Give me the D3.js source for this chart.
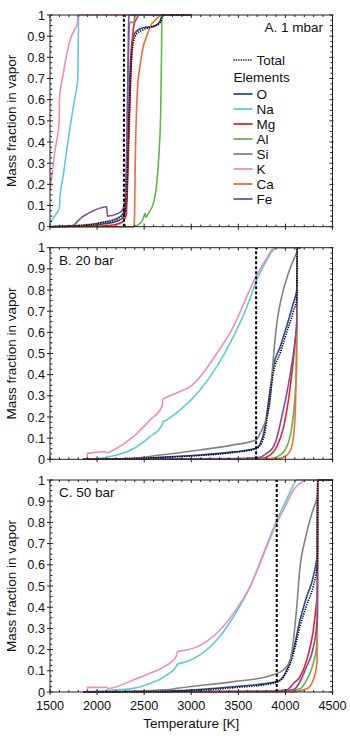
<!DOCTYPE html>
<html><head><meta charset="utf-8">
<script src="https://cdn.jsdelivr.net/npm/d3@7"></script>
<style>body{margin:0;background:#fff}svg{display:block;font-family:"Liberation Sans",Arial,Helvetica,sans-serif}</style>
</head><body><svg id="c" width="350" height="741"></svg>
<script>
// ---------- data ----------
const elements = ["O","Na","Mg","Al","Si","K","Ca","Fe"];
const elementColors = ["#2b4a9c","#5ccbdf","#ec2227","#5db947","#838383","#f28bbf","#f36a36","#7950a2"];
const xTicks = [1500,2000,2500,3000,3500,4000,4500];
const yTicks = [0,0.1,0.2,0.3,0.4,0.5,0.6,0.7,0.8,0.9,1];
const yTickLabels = ["0","0.1","0.2","0.3","0.4","0.5","0.6","0.7","0.8","0.9","1"];
const panelLabels = ["A. 1 mbar","B. 20 bar","C. 50 bar"];
const markerT = [2285, 3689, 3908];

// Panel A (1 mbar)
const O_A  = [[1500,0],[1900,0.005],[2100,0.015],[2200,0.025],[2270,0.04],[2300,0.07],[2320,0.2],[2340,0.6],[2360,0.82],[2385,0.9],[2420,0.924],[2491,0.94],[2598,0.945],[2668,0.97],[2693,1],[3000,1]];
const Na_A = [[1500,0.02],[1550,0.05],[1600,0.09],[1606,0.14],[1640,0.24],[1680,0.37],[1720,0.49],[1760,0.6],[1795,0.7],[1805,1],[3000,1]];
const Mg_A = [[1500,0],[2000,0.002],[2170,0.008],[2260,0.02],[2290,0.035],[2310,0.06],[2330,0.3],[2350,0.6],[2370,0.85],[2390,0.95],[2410,0.975],[2450,1],[3000,1]];
const Al_A = [[1500,0],[2385,0],[2456,0.016],[2491,0.04],[2509,0.063],[2519,0.044],[2544,0.063],[2598,0.11],[2633,0.2],[2658,0.35],[2676,0.55],[2684,0.8],[2688,1],[3000,1]];
const Si_A = [[1500,0],[1900,0.01],[2100,0.025],[2250,0.05],[2290,0.08],[2310,0.15],[2325,0.6],[2345,0.965],[2395,0.965],[2400,1],[3000,1]];
const K_A  = [[1500,0.17],[1553,0.36],[1598,0.5],[1600,0.6],[1640,0.72],[1680,0.82],[1720,0.89],[1760,0.93],[1790,0.96],[1800,1],[3000,1]];
const Ca_A = [[1500,0],[2390,0],[2398,0.05],[2405,0.3],[2415,0.5],[2430,0.66],[2456,0.76],[2490,0.85],[2527,0.9],[2570,0.95],[2615,0.975],[2686,1],[3000,1]];
const Fe_A = [[1500,0],[1700,0.002],[1760,0.01],[1790,0.024],[1840,0.045],[1907,0.063],[2102,0.094],[2110,0.05],[2225,0.063],[2270,0.08],[2295,0.12],[2320,0.5],[2335,0.97],[2340,1],[3000,1]];
const Tot_A = [[1500,0],[1900,0.008],[2031,0.018],[2173,0.03],[2280,0.06],[2310,0.12],[2335,0.45],[2360,0.75],[2385,0.87],[2420,0.91],[2491,0.93],[2580,0.945],[2660,0.96],[2685,0.98],[2695,1],[3000,1]];

// Panel B (20 bar)
const O_B  = [[1854,0],[2385,0.003],[2668,0.01],[3094,0.02],[3448,0.035],[3689,0.052],[3767,0.12],[3838,0.33],[3873,0.44],[3943,0.53],[4014,0.63],[4085,0.74],[4120,0.8],[4125,1],[4160,1]];
const Na_B = [[1854,0],[2031,0.005],[2208,0.02],[2385,0.05],[2562,0.107],[2690,0.162],[2700,0.178],[2739,0.186],[2881,0.233],[3094,0.328],[3271,0.438],[3448,0.58],[3590,0.72],[3696,0.848],[3802,0.942],[3873,0.99],[3908,1],[4160,1]];
const Mg_B = [[1854,0],[3731,0.003],[3838,0.02],[3908,0.06],[3979,0.15],[4032,0.28],[4067,0.4],[4102,0.55],[4120,0.65],[4125,1],[4160,1]];
const Al_B = [[1854,0],[3838,0.003],[3943,0.02],[4014,0.06],[4067,0.15],[4102,0.3],[4120,0.45],[4125,1],[4160,1]];
const Si_B = [[1854,0],[2385,0.005],[2668,0.02],[3094,0.044],[3448,0.068],[3689,0.091],[3731,0.123],[3802,0.2],[3838,0.28],[3873,0.485],[3908,0.64],[3961,0.77],[4032,0.88],[4102,0.96],[4120,0.98],[4125,1],[4160,1]];
const K_B  = [[1854,0],[1895,0],[1896,0.028],[2084,0.036],[2100,0.031],[2208,0.052],[2385,0.107],[2562,0.186],[2690,0.25],[2700,0.285],[2739,0.293],[2881,0.32],[2987,0.343],[3094,0.39],[3271,0.5],[3448,0.627],[3590,0.769],[3696,0.871],[3802,0.95],[3855,0.99],[3908,1],[4160,1]];
const Ca_B = [[1854,0],[3908,0.002],[4014,0.02],[4067,0.06],[4102,0.2],[4113,0.4],[4120,0.65],[4125,1],[4160,1]];
const Fe_B = [[1854,0],[3448,0.003],[3731,0.01],[3802,0.028],[3873,0.06],[3908,0.1],[3961,0.2],[4014,0.31],[4050,0.4],[4085,0.5],[4113,0.6],[4120,0.62],[4125,1],[4160,1]];
const Tot_B = [[1854,0],[2668,0.008],[3094,0.018],[3448,0.032],[3689,0.05],[3767,0.1],[3838,0.3],[3873,0.41],[3943,0.5],[4014,0.6],[4085,0.7],[4120,0.76],[4125,1],[4160,1]];

// Panel C (50 bar)
const O_C  = [[1854,0],[2739,0.005],[3448,0.025],[3908,0.049],[4014,0.104],[4085,0.198],[4155,0.34],[4226,0.45],[4296,0.544],[4339,0.66],[4342,1],[4500,1]];
const Na_C = [[1854,0],[2208,0.01],[2385,0.017],[2562,0.04],[2739,0.08],[2840,0.12],[2850,0.13],[2950,0.143],[3094,0.175],[3271,0.245],[3448,0.355],[3625,0.497],[3802,0.693],[3908,0.81],[4014,0.91],[4085,0.976],[4120,1],[4500,1]];
const Mg_C = [[1854,0],[3802,0.003],[4014,0.01],[4085,0.04],[4155,0.072],[4226,0.15],[4296,0.29],[4333,0.43],[4339,0.45],[4342,1],[4500,1]];
const Al_C = [[1854,0],[4014,0.003],[4155,0.015],[4226,0.057],[4296,0.135],[4333,0.22],[4339,0.27],[4342,1],[4500,1]];
const Si_C = [[1854,0],[2739,0.01],[2845,0.017],[3448,0.049],[3802,0.072],[3979,0.104],[4050,0.15],[4085,0.245],[4120,0.4],[4155,0.59],[4208,0.717],[4279,0.84],[4333,0.91],[4339,0.92],[4342,1],[4500,1]];
const K_C  = [[1854,0],[1895,0],[1896,0.022],[2102,0.022],[2110,0.016],[2385,0.057],[2562,0.088],[2739,0.127],[2840,0.167],[2850,0.19],[2950,0.198],[3094,0.22],[3271,0.277],[3448,0.371],[3625,0.497],[3802,0.686],[3908,0.796],[4014,0.89],[4085,0.953],[4155,0.984],[4226,1],[4500,1]];
const Ca_C = [[1854,0],[4085,0.002],[4226,0.015],[4296,0.057],[4330,0.12],[4336,0.15],[4339,0.4],[4342,1],[4500,1]];
const Fe_C = [[1854,0],[3908,0.003],[4085,0.012],[4226,0.12],[4296,0.21],[4333,0.32],[4339,0.36],[4342,1],[4500,1]];
const Tot_C = [[1854,0],[2739,0.003],[3448,0.02],[3908,0.045],[4014,0.095],[4085,0.18],[4155,0.31],[4226,0.41],[4296,0.5],[4339,0.6],[4342,1],[4500,1]];

const panelSeries = [
  [O_A,Na_A,Mg_A,Al_A,Si_A,K_A,Ca_A,Fe_A],
  [O_B,Na_B,Mg_B,Al_B,Si_B,K_B,Ca_B,Fe_B],
  [O_C,Na_C,Mg_C,Al_C,Si_C,K_C,Ca_C,Fe_C]
];
const panelTotals = [Tot_A, Tot_B, Tot_C];

// ---------- layout ----------
const L = 50, R = 332.5;
const panels = [{top:15,bottom:226.7},{top:247.7,bottom:459.3},{top:480,bottom:692}];
const svg = d3.select("#c");
const x = d3.scaleLinear().domain([1500,4500]).range([L,R]);
const fsTick = 12.7, fsLab = 13.5;
const axisColor = "#222";

panels.forEach((p, pi) => {
  const y = d3.scaleLinear().domain([0,1]).range([p.bottom,p.top]);
  const g = svg.append("g");
  const clipId = "clip"+pi;
  svg.append("clipPath").attr("id",clipId).append("rect")
    .attr("x",L).attr("y",p.top-1.5).attr("width",R-L).attr("height",p.bottom-p.top+3);

  const line = d3.line().curve(d3.curveMonotoneX).x(d=>x(d[0])).y(d=>y(d[1]));
  const lg = g.append("g").attr("clip-path",`url(#${clipId})`);
  panelSeries[pi].forEach((s,i)=>{
    lg.append("path").datum(s).attr("d",line).attr("fill","none")
      .attr("stroke",elementColors[i]).attr("stroke-width",1.6).attr("stroke-linejoin","round");
  });
  lg.append("path").datum(panelTotals[pi]).attr("d",line).attr("fill","none")
    .attr("stroke","#000").attr("stroke-width",1.6).attr("stroke-dasharray","1.2,1.2");
  lg.append("line").attr("x1",x(markerT[pi])).attr("x2",x(markerT[pi]))
    .attr("y1",y(0)).attr("y2",y(1)).attr("stroke","#000").attr("stroke-width",2)
    .attr("stroke-dasharray","3,2");

  // frame
  g.append("rect").attr("x",L).attr("y",p.top).attr("width",R-L).attr("height",p.bottom-p.top)
    .attr("fill","none").attr("stroke",axisColor).attr("stroke-width",1);

  const ax = g.append("g");
  yTicks.forEach((v,i)=>{
    ax.append("line").attr("x1",L-3).attr("x2",L+3).attr("y1",y(v)).attr("y2",y(v)).attr("stroke",axisColor);
    ax.append("line").attr("x1",R-3).attr("x2",R+1).attr("y1",y(v)).attr("y2",y(v)).attr("stroke",axisColor);
    ax.append("text").attr("x",L-5).attr("y",y(v)).attr("dy","0.36em").attr("text-anchor","end")
      .attr("font-size",fsTick).attr("fill","#111").text(yTickLabels[i]);
  });
  d3.range(0,20).map(k=>0.025+k*0.05).forEach(v=>{
    if (v>1) return;
    ax.append("line").attr("x1",L).attr("x2",L+2).attr("y1",y(v)).attr("y2",y(v)).attr("stroke",axisColor);
    ax.append("line").attr("x1",R-2).attr("x2",R).attr("y1",y(v)).attr("y2",y(v)).attr("stroke",axisColor);
  });
  d3.range(0,10).map(k=>0.05+k*0.1).forEach(v=>{
    ax.append("line").attr("x1",L).attr("x2",L+2.5).attr("y1",y(v)).attr("y2",y(v)).attr("stroke",axisColor);
    ax.append("line").attr("x1",R-2.5).attr("x2",R).attr("y1",y(v)).attr("y2",y(v)).attr("stroke",axisColor);
  });
  d3.range(1500,4501,100).forEach(t=>{
    const major = (t%500===0);
    ax.append("line").attr("x1",x(t)).attr("x2",x(t))
      .attr("y1",p.bottom+(major?3:0)).attr("y2",p.bottom-(major?3:2)).attr("stroke",axisColor);
    ax.append("line").attr("x1",x(t)).attr("x2",x(t))
      .attr("y1",p.top).attr("y2",p.top+(major?3:2)).attr("stroke",axisColor);
  });

  g.append("text").attr("transform",`translate(16,${(p.top+p.bottom)/2}) rotate(-90)`)
    .attr("text-anchor","middle").attr("font-size",fsLab).attr("fill","#111").text("Mass fraction in vapor");

  if (pi===0) {
    g.append("text").attr("x",323).attr("y",32).attr("text-anchor","end")
      .attr("font-size",fsLab).attr("fill","#111").text(panelLabels[pi]);
  } else {
    g.append("text").attr("x",59).attr("y",p.top+17).attr("text-anchor","start")
      .attr("font-size",fsLab).attr("fill","#111").text(panelLabels[pi]);
  }
});

xTicks.forEach(t=>{
  svg.append("text").attr("x",x(t)).attr("y",710).attr("text-anchor","middle")
    .attr("font-size",fsTick).attr("fill","#111").text(t);
});
svg.append("text").attr("x",(L+R)/2).attr("y",728).attr("text-anchor","middle")
  .attr("font-size",fsLab).attr("fill","#111").text("Temperature [K]");

const lgx = 233.5, lgLen = 19;
const leg = svg.append("g");
leg.append("line").attr("x1",lgx).attr("x2",lgx+lgLen).attr("y1",60).attr("y2",60)
  .attr("stroke","#000").attr("stroke-width",1.6).attr("stroke-dasharray","1.2,1.2");
leg.append("text").attr("x",lgx+23).attr("y",60).attr("dy","0.36em").attr("font-size",fsLab).attr("fill","#111").text("Total");
leg.append("text").attr("x",lgx).attr("y",77).attr("dy","0.36em").attr("font-size",fsLab).attr("fill","#111").text("Elements");
elements.forEach((e,i)=>{
  const yy = 94 + i*15;
  leg.append("line").attr("x1",lgx).attr("x2",lgx+lgLen).attr("y1",yy).attr("y2",yy)
    .attr("stroke",elementColors[i]).attr("stroke-width",1.8);
  leg.append("text").attr("x",lgx+23).attr("y",yy).attr("dy","0.36em").attr("font-size",fsLab).attr("fill","#111").text(e);
});
</script></body></html>
